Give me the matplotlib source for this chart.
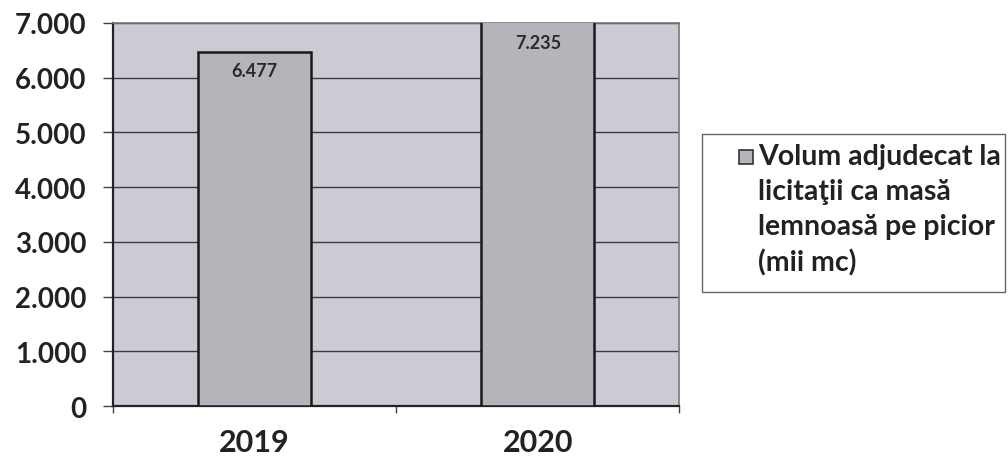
import matplotlib.pyplot as plt
from matplotlib.patches import Rectangle

# =============================================================================
# Data
# =============================================================================

years = ["2019", "2020"]
volumes = [6477, 7235]
value_labels = ["6.477", "7.235"]
y_ticks = [0, 1000, 2000, 3000, 4000, 5000, 6000, 7000]
y_tick_labels = ["0", "1.000", "2.000", "3.000", "4.000", "5.000", "6.000", "7.000"]
legend_label = "Volum adjudecat la\nlicitaţii ca masă\nlemnoasă pe picior\n(mii mc)"

# =============================================================================
# Plot
# =============================================================================

plt.rcParams['font.family'] = ['Lato', 'DejaVu Sans']
plt.rcParams['font.weight'] = 'bold'

W, H = 1008, 460
fig = plt.figure(figsize=(W / 100, H / 100), dpi=100)
ax = fig.add_axes([0.112, 0.115, 0.562, 0.833])
ax.set_facecolor('#cbcbd3')

bar_color = '#b4b4ba'
x = list(range(len(years)))
ax.bar(x, volumes, width=0.4, color=bar_color, edgecolor='#1a1a1a', linewidth=1.8, zorder=3)

ymax = 7000
ax.set_ylim(0, ymax)
ax.set_xlim(-0.5, len(years) - 0.5)

# value labels near the (visible) top of each bar
for xi, v, lab in zip(x, volumes, value_labels):
    top = min(v, ymax)
    ax.annotate(lab, (xi, top), xytext=(0, -14), textcoords='offset points',
                ha='center', va='center', fontsize=13, color='#2a2a2a',
                fontweight='bold', zorder=4)

ax.set_yticks(y_ticks)
ax.set_yticklabels(y_tick_labels, fontsize=20, color='#222222')
ax.set_xticks(x)
ax.set_xticklabels(years, fontsize=22, color='#222222')
ax.set_xticks([-0.5, 0.5, 1.5], minor=True)

ax.tick_params(axis='y', length=7, width=1, color='#444444', pad=12)
ax.tick_params(axis='x', which='major', length=0, pad=16)
ax.tick_params(axis='x', which='minor', length=5, width=1, color='#444444')

ax.yaxis.grid(True, color='#3c3c44', linewidth=1.0, zorder=1)
ax.set_axisbelow(True)

for side in ['left', 'bottom']:
    ax.spines[side].set_color('#222222')
    ax.spines[side].set_linewidth(1.6)
for side in ['top', 'right']:
    ax.spines[side].set_color('#77777c')
    ax.spines[side].set_linewidth(1.2)

# legend box drawn by hand so the swatch sits on the first text line
box_l, box_r, box_t, box_b = 702, 1005, 135, 293
fig.patches.append(Rectangle((box_l / W, 1 - box_b / H), (box_r - box_l) / W, (box_b - box_t) / H,
                             transform=fig.transFigure, facecolor='white',
                             edgecolor='#666666', linewidth=1.0))
sw_l, sw_t, sw = 739, 151, 14
fig.patches.append(Rectangle((sw_l / W, 1 - (sw_t + sw) / H), sw / W, sw / H,
                             transform=fig.transFigure, facecolor=bar_color,
                             edgecolor='#333333', linewidth=1.2))
fig.text(758 / W, 1 - 144 / H, legend_label, ha='left', va='top',
         fontsize=20.5, fontweight='bold', color='#222222', linespacing=1.42)

fig.savefig('out.png', dpi=100, facecolor='white')
